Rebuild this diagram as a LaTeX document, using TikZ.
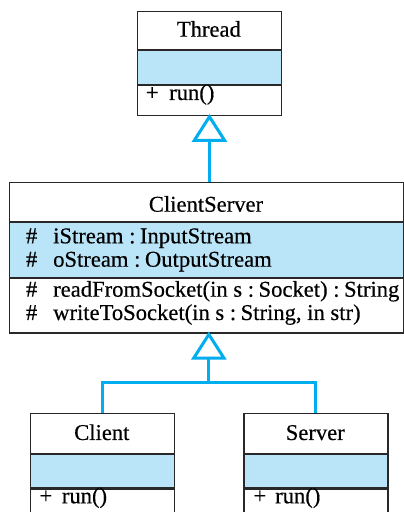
\documentclass[tikz,border=0pt]{standalone}
\usepackage{fontspec}
\setmainfont{Liberation Serif}[FakeBold=0.4]
\usetikzlibrary{arrows.meta}
\definecolor{umlblue}{RGB}{0,174,239}
\definecolor{attrfill}{RGB}{186,228,248}
\definecolor{bordercol}{RGB}{40,40,40}
\newcommand\umlcolon{~:\hspace{0.2em}}
\begin{document}
\begin{tikzpicture}[x=1pt,y=1pt,
  comp/.style={draw=bordercol, line width=1.2pt, rectangle, inner sep=0pt, anchor=north west},
  attr/.style={comp, fill=attrfill},
  lbl/.style={font=\fontsize{22.6}{26}\selectfont, inner sep=0pt, anchor=base, text height=15pt, text depth=4pt},
  lbll/.style={lbl, anchor=base west},
  conn/.style={draw=umlblue, line width=3pt, line join=miter},
  gen/.style={conn, -{Triangle[open, length=28pt, width=35pt]}, shorten >=-2pt}
]
\useasboundingbox (0,0) rectangle (404,512);
% Thread
\node[comp, minimum width=144.3pt, minimum height=38.3pt] (thrT) at (136.7,501.3) {};
\node[attr, minimum width=144.3pt, minimum height=33.7pt] (thrA) at (thrT.south west) {};
\node[comp, minimum width=144.3pt, minimum height=29.6pt] (thrM) at (thrA.south west) {};
\node[lbl] (thrN) at (208.85,475.3) {Thread};
\node[lbll] (thrP) at (145.7,412) {+};
\node[lbll] (thrR) at (169,412) {run()};
% ClientServer
\node[comp, minimum width=394pt, minimum height=38.7pt] (csT) at (9,330) {};
\node[attr, minimum width=394pt, minimum height=55pt] (csA) at (csT.south west) {};
\node[comp, minimum width=394pt, minimum height=54.3pt] (csM) at (csA.south west) {};
\node[lbl] (csN) at (206,300.3) {ClientServer};
\node[lbll] (csh1) at (25.7,268.7) {\#};
\node[lbll] (csa1) at (53,268.7) {iStream\umlcolon InputStream};
\node[lbll] (csh2) at (25.7,245.3) {\#};
\node[lbll] (csa2) at (53,245.3) {oStream\umlcolon OutputStream};
\node[lbll] (csh3) at (25.7,215.3) {\#};
\node[lbll] (csm1) at (53,215.3) {readFromSocket(in s\umlcolon Socket)\umlcolon String};
\node[lbll] (csh4) at (25.7,192) {\#};
\node[lbll] (csm2) at (53,192) {writeToSocket(in s\umlcolon String, in str)};
% Client
\node[comp, minimum width=143.7pt, minimum height=39.4pt] (cliT) at (30,98.7) {};
\node[attr, minimum width=143.7pt, minimum height=33.3pt] (cliA) at (cliT.south west) {};
\node[comp, minimum width=143.7pt, minimum height=34pt] (cliM) at (cliA.south west) {};
\node[lbl] (cliN) at (101.85,72) {Client};
\node[lbll] (cliP) at (39.3,8.7) {+};
\node[lbll] (cliR) at (61.7,8.7) {run()};
% Server
\node[comp, minimum width=144pt, minimum height=39.4pt] (srvT) at (243.3,98.7) {};
\node[attr, minimum width=144pt, minimum height=33.3pt] (srvA) at (srvT.south west) {};
\node[comp, minimum width=144pt, minimum height=34pt] (srvM) at (srvA.south west) {};
\node[lbl] (srvN) at (315.3,72) {Server};
\node[lbll] (srvP) at (253.3,8.7) {+};
\node[lbll] (srvR) at (275,8.7) {run()};
% connectors
\draw[gen] (thrM.south |- csT.north) -- (thrM.south);
\coordinate (j) at (208.85,129.7);
\draw[gen] (j) -- (j |- csM.south);
\draw[conn] (cliT.north) -- (cliT.north |- j) -- (srvT.north |- j) -- (srvT.north);
\end{tikzpicture}
\end{document}
